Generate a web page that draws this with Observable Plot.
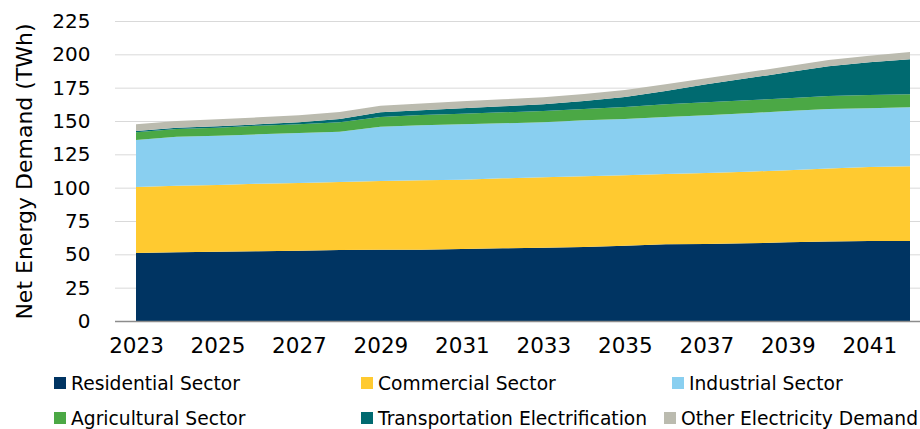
<!DOCTYPE html>
<html>
<head>
<meta charset="utf-8">
<script src="https://cdn.jsdelivr.net/npm/d3@7"></script>
<script src="https://cdn.jsdelivr.net/npm/@observablehq/plot@0.6"></script>
<style>
  html, body { margin: 0; padding: 0; background: #fff; }
  #wrap { position: relative; width: 920px; height: 429px; overflow: hidden; font-family: "DejaVu Sans", sans-serif; }
  #legend { position: absolute; left: 0; top: 0; width: 920px; height: 429px; pointer-events: none; }
  .item { position: absolute; display: flex; align-items: center; font-size: 18.7px; color: #000; white-space: nowrap; }
  .sw { width: 12px; height: 12px; margin-right: 5px; }
</style>
</head>
<body>
<div id="wrap"><div id="chart"></div><div id="legend"></div></div>
<script>
const years = [2023,2024,2025,2026,2027,2028,2029,2030,2031,2032,2033,2034,2035,2036,2037,2038,2039,2040,2041,2042];
const residential    = [51,51.5,52,52.3,52.7,53.2,53.5,53.5,54,54.5,55,55.5,56.5,57.5,57.8,58.3,59,59.6,60,60];
const commercial     = [49.5,50,50,50.7,50.8,51.1,51.5,52,52,52.5,52.8,53,52.8,52.7,53.2,53.7,54,54.7,55.5,56];
const industrial     = [35.3,36.7,37,37,37.5,37.7,40.7,41.3,41.5,41.3,41.2,42,42.2,42.8,43.3,43.8,44.5,44.7,44.1,44.3];
const agricultural   = [5.7,5.8,6,6.5,6.5,7,7.3,7.7,8,8.2,8.5,8.5,9,9.5,9.7,9.7,9.5,9.8,9.9,9.7];
const transportation = [1,1,1,1,1.5,2.5,3.5,3.5,4,4.5,5,6,7.5,10,13.5,16.5,19.5,22.2,24.5,26.3];
const other          = [5,5,5.3,5.3,5.3,5.3,5,5.2,5.3,5.3,5.3,5.3,5.3,5,4.5,4.5,4.5,4.8,5,5.5];

const seriesNames = ["Residential Sector","Commercial Sector","Industrial Sector","Agricultural Sector","Transportation Electrification","Other Electricity Demand"];
const seriesColors = ["#003462","#FFCA30","#89CFF0","#4BA845","#006A70","#BBBBAF"];
const yTicks = [0,25,50,75,100,125,150,175,200,225];
const xTicks = [2023,2025,2027,2029,2031,2033,2035,2037,2039,2041];
const yTitle = "Net Energy Demand (TWh)";

const seriesValues = [residential, commercial, industrial, agricultural, transportation, other];
const data = [];
seriesNames.forEach((name, si) => {
  years.forEach((yr, i) => data.push({year: yr, series: name, value: seriesValues[si][i]}));
});

const chart = Plot.plot({
  width: 920,
  height: 362,
  marginLeft: 115,
  marginRight: 0,
  marginTop: 21,
  marginBottom: 41,
  style: { fontFamily: "DejaVu Sans, sans-serif", background: "#fff", overflow: "visible" },
  x: { domain: [2022.4845, 2042.2455], label: null },
  y: { domain: [0, 225], label: null },
  color: { domain: seriesNames, range: seriesColors },
  marks: [
    Plot.ruleY(yTicks.filter(d => d > 0), { stroke: "#d9d9d9", strokeWidth: 1 }),
    Plot.areaY(data, Plot.stackY({ order: seriesNames }, { x: "year", y: "value", z: "series", fill: "series" })),
    Plot.ruleY([0], { stroke: "#8c8c8c", strokeWidth: 1.5 }),
    Plot.axisX({ ticks: xTicks, tickFormat: d => String(d), tickSize: 0, tickPadding: 16, fontSize: 21.5, fill: "#000", label: null }),
    Plot.axisY({ ticks: yTicks, tickSize: 0, tickPadding: 25, fontSize: 20, fill: "#000", label: null }),
    Plot.text([yTitle], { frameAnchor: "left", dx: -91, rotate: -90, textAnchor: "middle", fontSize: 22, fill: "#000" })
  ]
});
document.getElementById("chart").appendChild(chart);

// legend
const legendPos = [[54,383],[361,383],[672,383],[54,418],[361,418],[664,418]];
const legend = document.getElementById("legend");
seriesNames.forEach((name, i) => {
  const it = document.createElement("div");
  it.className = "item";
  it.style.left = legendPos[i][0] + "px";
  it.style.top = (legendPos[i][1] - 11) + "px";
  it.style.height = "22px";
  const sw = document.createElement("span");
  sw.className = "sw";
  sw.style.background = seriesColors[i];
  const tx = document.createElement("span");
  tx.textContent = name;
  it.appendChild(sw); it.appendChild(tx);
  legend.appendChild(it);
});
</script>
</body>
</html>
